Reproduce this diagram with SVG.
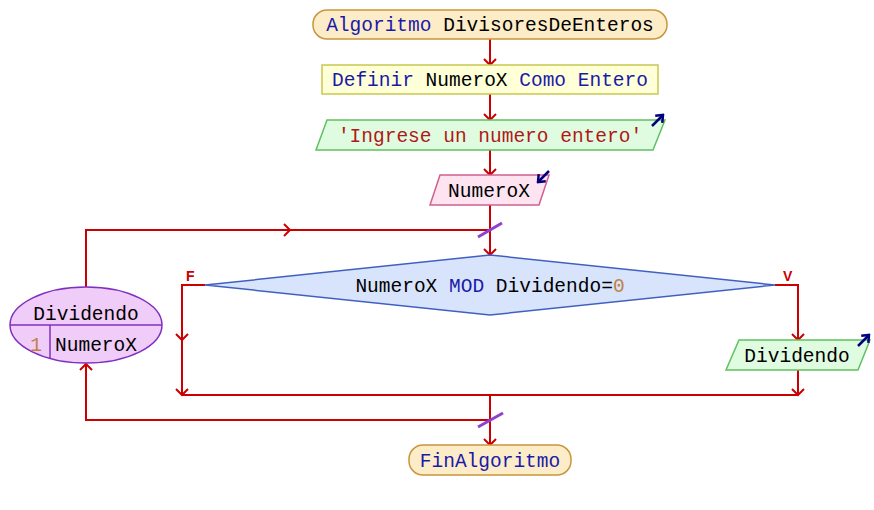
<svg xmlns="http://www.w3.org/2000/svg" width="874" height="510" viewBox="0 0 874 510">
<defs>
<style>
text{font-family:"Liberation Mono","Courier New",monospace;font-size:19.5px;fill:#000}
.kw{fill:#1a1aa8}
.str{fill:#b01818}
.num{fill:#c08040}
.lbl{font-family:"Liberation Sans",Arial,sans-serif;font-size:14px;font-weight:bold;fill:#cc0000}
.c{fill:none;stroke:#cc0000;stroke-width:2}
.slash{stroke:#9040d0;stroke-width:3}
.io{stroke:#000080;stroke-width:2.5;fill:none}
</style>
<marker id="ah" viewBox="-8 -7 10 14" markerWidth="10" markerHeight="14" refX="0" refY="0" orient="auto" markerUnits="userSpaceOnUse">
<path d="M-6,-6 L0,0 L-6,6" fill="none" stroke="#cc0000" stroke-width="2"/>
</marker>
<marker id="bh" viewBox="-8 -6 10 12" markerWidth="10" markerHeight="12" refX="0" refY="0" orient="auto" markerUnits="userSpaceOnUse">
<path d="M-6,-5 L0,0 L-6,5" fill="none" stroke="#000080" stroke-width="2.5"/>
</marker>
</defs>
<rect width="874" height="510" fill="#fff"/>
<g id="connectors">
<path class="c" d="M490,39 V65" marker-end="url(#ah)"/>
<path class="c" d="M490,94 V120" marker-end="url(#ah)"/>
<path class="c" d="M490,150 V175" marker-end="url(#ah)"/>
<path class="c" d="M490,205 V255" marker-end="url(#ah)"/>
<path class="c" d="M86,287 V230 H290" marker-end="url(#ah)"/>
<path class="c" d="M290,230 H490"/>
<path class="c" d="M205,285 H182 V340" marker-end="url(#ah)"/>
<path class="c" d="M182,340 V395" marker-end="url(#ah)"/>
<path class="c" d="M775,285 H798 V340" marker-end="url(#ah)"/>
<path class="c" d="M798,370 V395" marker-end="url(#ah)"/>
<path class="c" d="M182,395 H798"/>
<path class="c" d="M490,395 V445" marker-end="url(#ah)"/>
<path class="c" d="M490,420 H86 V364" marker-end="url(#ah)"/>
<line class="slash" x1="478" y1="237" x2="502" y2="223"/>
<line class="slash" x1="478" y1="427" x2="503" y2="413"/>
<text class="lbl" x="186" y="281">F</text>
<text class="lbl" x="783" y="281">V</text>
</g>
<g id="inicio">
<rect x="313" y="10" width="354" height="29" rx="14" fill="#fdecc8" stroke="#c8963c" stroke-width="1.5"/>
<text x="490" y="31" text-anchor="middle"><tspan class="kw">Algoritmo</tspan> DivisoresDeEnteros</text>
</g>
<g id="definir">
<rect x="322" y="65" width="336" height="29" fill="#ffffd8" stroke="#c8c850" stroke-width="1.5"/>
<text x="490" y="86" text-anchor="middle"><tspan class="kw">Definir</tspan> NumeroX <tspan class="kw">Como</tspan> <tspan class="kw">Entero</tspan></text>
</g>
<g id="escribir1">
<polygon points="327,120 665,120 653,150 316,150" fill="#e0fce0" stroke="#60c060" stroke-width="1.5"/>
<text x="490" y="142" text-anchor="middle" class="str">'Ingrese un numero entero'</text>
<path class="io" d="M652,126 L663,115" marker-end="url(#bh)"/>
</g>
<g id="leer">
<polygon points="440,175 549,175 539,205 430,205" fill="#fde4f0" stroke="#d06090" stroke-width="1.5"/>
<text x="489" y="197" text-anchor="middle">NumeroX</text>
<path class="io" d="M549,171 L538,182" marker-end="url(#bh)"/>
</g>
<g id="para">
<ellipse cx="86" cy="325" rx="76" ry="38" fill="#f0ccf8" stroke="#8030c0" stroke-width="1.5"/>
<line x1="10" y1="325" x2="162" y2="325" stroke="#8030c0" stroke-width="1.5"/>
<line x1="50" y1="325" x2="50" y2="359" stroke="#8030c0" stroke-width="1.5"/>
<text x="86" y="320" text-anchor="middle">Dividendo</text>
<text x="36" y="351" text-anchor="middle" class="num">1</text>
<text x="96" y="351" text-anchor="middle">NumeroX</text>
</g>
<g id="si">
<polygon points="205,285 490,255 775,285 490,315" fill="#d8e4fc" stroke="#4060c0" stroke-width="1.5"/>
<text x="490" y="292" text-anchor="middle">NumeroX <tspan class="kw">MOD</tspan> Dividendo=<tspan class="num">0</tspan></text>
</g>
<g id="escribir2">
<polygon points="739,340 870,340 858,370 726,370" fill="#e0fce0" stroke="#60c060" stroke-width="1.5"/>
<text x="797" y="362" text-anchor="middle">Dividendo</text>
<path class="io" d="M858,346 L869,335" marker-end="url(#bh)"/>
</g>
<g id="fin">
<rect x="409" y="445" width="162" height="30" rx="14" fill="#fdecc8" stroke="#c8963c" stroke-width="1.5"/>
<text x="490" y="467" text-anchor="middle" class="kw">FinAlgoritmo</text>
</g>
</svg>
